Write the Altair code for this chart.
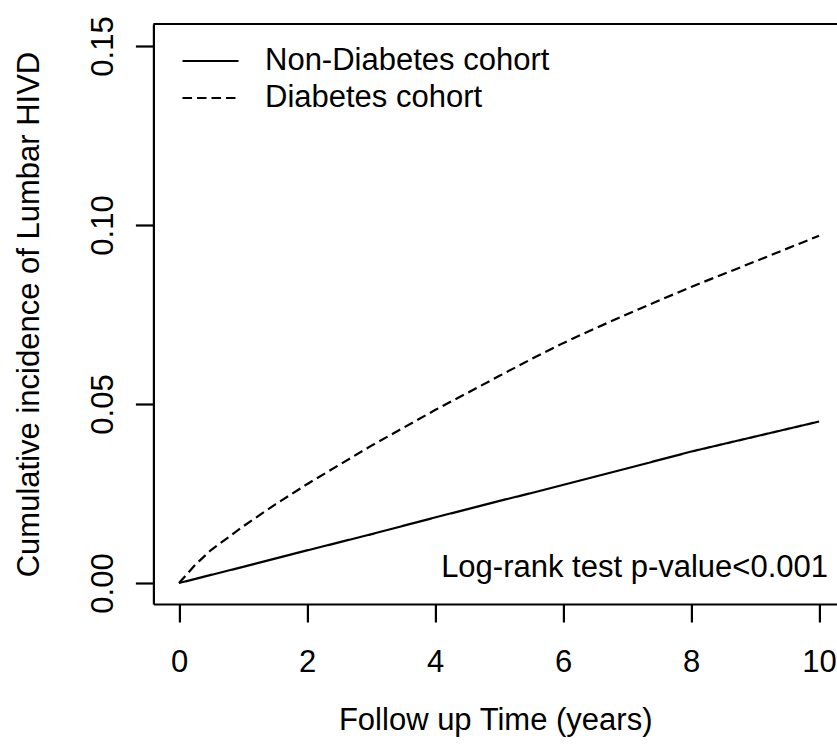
import altair as alt
import pandas as pd

# ---- data ----
years = [0, 0.25, 0.5, 1, 1.5, 2, 3, 4, 5, 5.5, 6, 6.5, 7, 8, 9, 10]
non_diabetes = [0.0, 0.0011, 0.00225, 0.0045, 0.0068, 0.0091, 0.0136, 0.0183,
                0.0229, 0.0251, 0.0274, 0.0297, 0.0320, 0.0367, 0.0409, 0.0451]
diabetes = [0.0, 0.0050, 0.0092, 0.0158, 0.0219, 0.0276, 0.0383, 0.0483,
            0.0578, 0.0625, 0.0670, 0.0711, 0.0751, 0.0827, 0.0898, 0.0970]
cohorts = ["Non-Diabetes cohort", "Diabetes cohort"]
x_ticks = [0, 2, 4, 6, 8, 10]
y_ticks = [0.0, 0.05, 0.10, 0.15]
x_title = "Follow up Time (years)"
y_title = "Cumulative incidence of Lumbar HIVD"
annotation = "Log-rank test p-value<0.001"
annotation_x = 10.14
annotation_y = 0.0017

x_domain = [-0.4, 10.28]
y_domain = [-0.00587, 0.15615]

rows = []
for t, v in zip(years, non_diabetes):
    rows.append({"time": t, "cuminc": v, "cohort": cohorts[0]})
for t, v in zip(years, diabetes):
    rows.append({"time": t, "cuminc": v, "cohort": cohorts[1]})
df = pd.DataFrame(rows)

FONT = "Liberation Sans"
FS = 31

x_scale = alt.Scale(domain=x_domain, nice=False, zero=False)
y_scale = alt.Scale(domain=y_domain, nice=False, zero=False)

lines = alt.Chart(df).mark_line(color="black", strokeWidth=2.2, clip=True).encode(
    x=alt.X("time:Q", scale=x_scale,
            axis=alt.Axis(values=x_ticks, title=x_title, format="d",
                          tickSize=18, labelPadding=49, labelBaseline="alphabetic",
                          titleBaseline="alphabetic", titleY=125)),
    y=alt.Y("cuminc:Q", scale=y_scale,
            axis=alt.Axis(values=y_ticks, title=y_title, format=".2f",
                          tickSize=18, labelAngle=270, labelAlign="center",
                          labelBaseline="alphabetic", labelPadding=23,
                          titleAngle=270, titleBaseline="alphabetic", titleX=-115)),
    strokeDash=alt.StrokeDash(
        "cohort:N",
        scale=alt.Scale(domain=cohorts, range=[[1, 0], [9.5, 5]]),
        sort=cohorts,
        legend=alt.Legend(title=None, orient="none", legendX=27.6, legendY=18.5,
                          symbolType="stroke", symbolSize=3136,
                          symbolStrokeWidth=2.2, symbolStrokeColor="black",
                          labelFont=FONT, labelFontSize=FS, labelColor="black",
                          labelLimit=0, labelOffset=25, rowPadding=0,
                          clipHeight=37, padding=0),
    ),
)

# top edge of the plot frame
top_frame = alt.Chart(pd.DataFrame({"a": [0]})).mark_rule(
    color="black", strokeWidth=2.2
).encode(
    x=alt.datum(x_domain[0]), x2=alt.datum(x_domain[1]), y=alt.datum(y_domain[1])
)

ann = alt.Chart(pd.DataFrame({"label": [annotation]})).mark_text(
    align="right", baseline="alphabetic", font=FONT, fontSize=FS, color="black"
).encode(
    x=alt.datum(annotation_x), y=alt.datum(annotation_y), text="label:N"
)

chart = alt.layer(lines, top_frame, ann).properties(
    width=683.6, height=580,
    autosize=alt.AutoSizeParams(type="none"),
    padding={"left": 153.4, "top": 24, "right": 0, "bottom": 145},
).configure(background="white").configure_view(stroke=None).configure_axis(
    domainColor="black", domainWidth=2.2, tickColor="black", tickWidth=2.2,
    labelFont=FONT, labelFontSize=FS, labelColor="black",
    titleFont=FONT, titleFontSize=FS, titleColor="black", titleFontWeight="normal",
    grid=False,
)

chart.save("out.html", embed_options={"renderer": "svg", "actions": False})
